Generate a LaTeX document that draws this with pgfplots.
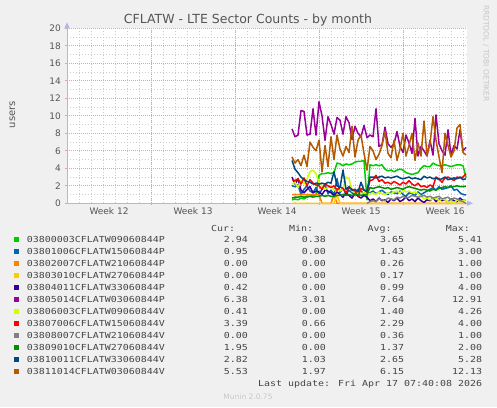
\documentclass[border=0pt]{standalone}
\usepackage{fontspec}
\setmainfont{DejaVu Sans}
\newfontfamily\monofont[FakeStretch=1.2]{DejaVu Sans Mono}
\usepackage{pgfplots}
\usepackage{pgfplotstable}
\pgfplotsset{compat=1.18}
\usetikzlibrary{arrows.meta}
\definecolor{c0}{HTML}{00CC00}
\definecolor{c1}{HTML}{0066B3}
\definecolor{c2}{HTML}{FF8000}
\definecolor{c3}{HTML}{FFCC00}
\definecolor{c4}{HTML}{330099}
\definecolor{c5}{HTML}{990099}
\definecolor{c6}{HTML}{CCFF00}
\definecolor{c7}{HTML}{FF0000}
\definecolor{c8}{HTML}{808080}
\definecolor{c9}{HTML}{008F00}
\definecolor{c10}{HTML}{00487D}
\definecolor{c11}{HTML}{B35A00}
\definecolor{bg}{HTML}{F0F0F0}
\definecolor{tickc}{HTML}{555555}
\definecolor{txt}{HTML}{444444}
\definecolor{mgrid}{HTML}{E8A0A0}
\definecolor{ngrid}{HTML}{CCCCCC}
\definecolor{axc}{HTML}{B4B4E6}
\definecolor{faint}{HTML}{C8C8C8}

\pgfplotstableread[header=false]{
d 18.75 19 19.25 19.5 19.75 20 20.25 20.5 20.75 21 21.25 21.5 21.75 22 22.25 22.5 22.75 23 23.25 23.5 23.75 24 24.25 24.5 24.75 25 25.25 25.5 25.75 26 26.25 26.5 26.75 27 27.25 27.5 27.75 28 28.25 28.5 28.75 29 29.25 29.5 29.75 30 30.25 30.5 30.75 31 31.25 31.5 31.75 32 32.25 32.5 32.75 33 33.25
s0 0.4 0.5 0.4 0.6 0.5 0.7 0.8 0.9 1.0 3.2 3.4 3.4 3.5 3.4 3.5 4.6 4.5 4.3 4.5 4.4 4.5 4.7 4.8 4.8 4.9 0.4 4.4 4.3 4.4 4.3 4.4 3.9 3.7 3.8 3.6 3.8 3.9 3.8 3.5 3.4 3.3 3.4 3.5 4.0 4.3 4.2 4.2 4.6 4.4 4.3 4.3 4.4 4.3 4.2 4.3 4.4 4.4 4.3 2.94
s1 2.0 1.9 2.1 1.0 1.6 2.0 1.4 1.2 1.8 1.0 1.6 2.2 1.1 1.5 1.0 2.8 1.2 1.8 1.0 1.5 1.2 1.0 1.6 1.4 1.1 1.0 1.2 1.4 1.1 1.3 1.5 1.2 1.0 1.3 1.2 1.1 1.4 1.0 0.8 1.2 1.1 0.9 1.3 1.0 1.2 1.4 1.6 1.8 1.5 1.9 1.6 1.7 1.8 2.0 1.5 1.6 1.2 1.0 0.95
s2 1 1 1 1 1 1 1 1 1 1 0 0 0 0 1 0 0 0 0 0 0 0 0 0 0 0 0 0 0 0 0 0 0 0 0 0 0 0 0 0 0 0 0 0 0 0 0 0 0 0 0 0 0 0 0 0 0 0 0
s3 0 0 0 0 0 0 0 0 0 0 0 0 0 0 0 1 0 0 0 0 0 0 0 0 0 0 0 0 0 0 0 0 0 0 0 0 0 0 0 0 0 0 0 0 0 0 0 0 0 0 0 0 0 0 0 0 0 0 0
s4 3.0 2.2 2.8 1.5 1.2 1.6 1.9 1.2 1.4 1.3 1.0 1.5 1.4 1.2 0.9 1.3 1.0 0.7 1.2 0.9 0.6 1.1 0.8 0.6 0.9 0.7 0.3 0.5 0.2 0.6 0.3 0.4 0.1 0.5 0.3 0.6 0.2 0.4 0.7 0.3 0.5 0.2 0.6 0.3 0.1 0.4 0.3 0.6 0.2 0.5 0.3 0.4 0.1 0.5 0.3 0.2 0.6 0.3 0.42
s5 8.5 7.6 7.8 10.6 10.5 7.8 7.9 10.8 7.8 11.6 10.0 7.2 9.9 9.0 7.9 9.8 9.5 7.9 9.9 9.2 7.3 8.8 8.0 7.6 8.9 7.5 7.8 7.6 10.8 6.5 6.7 8.7 6.8 6.4 6.8 8.2 6.5 5.8 7.8 6.9 5.7 9.7 5.4 6.5 6.0 5.4 7.2 5.5 10.1 6.8 6.0 5.5 8.4 5.5 6.6 6.2 8.4 6.0 6.38
s6 2.2 2.4 1.8 2.6 2.2 2.8 3.6 3.8 3.4 2.4 2.0 1.6 1.8 2.0 1.5 1.7 1.4 1.6 3.0 2.8 1.4 1.2 1.3 1.1 1.2 1.0 1.1 1.2 1.0 1.3 1.1 1.0 1.2 1.1 1.3 1.4 1.2 1.5 1.3 1.4 1.2 1.3 1.1 0.8 0.5 0.6 0.4 0.5 0.6 0.3 0.5 0.4 0.1 0.3 0.0 0.4 0.2 0.3 0.41
s7 2.7 2.6 2.8 2.2 2.9 2.0 2.7 2.3 2.1 2.0 1.6 2.2 2.0 1.8 2.0 1.5 1.9 1.7 1.2 1.8 1.6 1.4 0.8 1.7 1.5 1.3 2.6 2.7 3.2 2.5 2.7 2.3 2.4 2.2 2.5 2.3 2.1 2.4 2.2 2.6 2.2 2.0 2.3 1.9 2.0 1.8 2.1 1.9 3.0 2.8 2.4 2.9 3.0 2.8 2.6 3.0 2.9 3.0 3.39
s8 nan nan nan nan nan nan nan nan nan nan nan nan nan nan nan nan nan nan nan nan nan nan nan nan nan 0.0 0.2 0.3 0.2 0.5 0.4 0.3 0.6 0.5 0.4 0.7 0.6 0.8 0.6 0.7 0.9 0.8 0.7 0.8 0.9 0.7 0.8 0.6 0.7 0.8 0.5 0.6 0.7 0.4 0.6 0.5 0.3 0.2 0.0
s9 0.6 0.7 0.7 0.8 0.7 0.8 0.8 0.7 0.8 0.8 0.9 0.8 0.9 0.8 0.8 0.9 0.9 1.0 0.9 1.0 0.9 1.0 1.0 0.9 1.0 1.0 1.8 1.7 1.8 1.9 1.8 1.7 1.8 1.6 1.7 1.8 1.7 1.6 1.8 1.9 1.8 1.7 1.6 1.5 1.6 1.5 1.4 1.6 1.5 1.7 1.8 1.9 1.8 1.9 1.9 2.0 1.9 1.9 1.95
s10 4.9 3.9 3.5 3.0 2.7 2.5 2.4 2.2 2.3 2.2 2.3 2.2 2.4 2.3 3.6 2.0 1.8 3.8 1.6 1.9 1.5 1.6 1.3 2.4 1.5 1.4 3.0 3.0 2.9 3.0 3.1 2.9 3.0 2.9 3.0 3.1 2.9 2.8 2.9 3.0 2.8 2.9 2.8 2.7 3.1 2.9 3.0 2.8 2.9 2.7 2.8 3.0 2.7 2.8 2.9 2.8 3.0 2.7 2.82
s11 5.3 4.6 5.0 4.3 5.5 4.2 7.0 6.4 6.0 7.2 3.6 6.6 4.2 7.6 5.0 7.8 6.2 5.4 6.5 5.8 8.8 5.3 7.2 7.8 5.7 3.8 6.5 6.0 5.0 5.6 6.6 8.2 5.7 5.2 7.2 4.9 6.2 8.0 5.4 6.6 8.0 4.9 6.9 5.4 9.4 5.5 6.8 9.9 7.2 5.3 3.5 8.0 6.6 5.3 6.0 8.6 9.0 5.8 5.53
}\raw
\pgfplotstabletranspose[colnames from=0]{\data}{\raw}

\begin{document}
\begin{tikzpicture}
\path[use as bounding box, fill=bg] (0pt,0pt) rectangle (497pt,407pt);
\begin{axis}[
  at={(67pt,203.7pt)}, anchor=south west,
  scale only axis, width=400pt, height=175pt,
  xmin=0, xmax=33.333, ymin=0, ymax=20,
  axis background/.style={fill=white},
  axis x line=bottom, axis y line=left,
  axis line style={draw=axc, line width=0.8pt},
  x axis line style={-{Triangle[length=6pt,width=5pt]}, shorten >=-6pt},
  y axis line style={-{Triangle[length=6pt,width=5pt]}, shorten >=-6pt},
  xtick={7,14,21,28}, xticklabels={,,,},
  extra x ticks={3.5,10.5,17.5,24.5,31.5},
  extra x tick labels={Week 12,Week 13,Week 14,Week 15,Week 16},
  extra x tick style={grid=none, major tick length=0pt},
  ytick={0,2,...,20},
  minor xtick={1,2,...,33}, minor ytick={1,3,...,19},
  grid=both,
  major grid style={draw=mgrid, dash pattern=on 1pt off 1pt, line width=0.7pt},
  minor grid style={draw=ngrid, dash pattern=on 1pt off 2pt, line width=0.6pt},
  tick align=outside, major tick length=2pt, minor tick length=0pt,
  tick style={draw=mgrid, line width=0.7pt},
  tick label style={font=\fontsize{9}{10}\selectfont, text=tickc},
  /pgf/number format/assume math mode=true,
  yticklabel style={inner sep=0pt, anchor=east, xshift=-4pt},
  xticklabel style={inner sep=0pt, anchor=north, yshift=-4pt},
  clip=false,
  unbounded coords=jump,
  every axis plot/.append style={line width=1.5pt, line join=round, no marks},
]
\addplot[c0] table[x=d, y=s0] {\data};
\addplot[c1] table[x=d, y=s1] {\data};
\addplot[c2] table[x=d, y=s2] {\data};
\addplot[c3] table[x=d, y=s3] {\data};
\addplot[c4] table[x=d, y=s4] {\data};
\addplot[c5] table[x=d, y=s5] {\data};
\addplot[c6] table[x=d, y=s6] {\data};
\addplot[c7] table[x=d, y=s7] {\data};
\addplot[c8] table[x=d, y=s8] {\data};
\addplot[c9] table[x=d, y=s9] {\data};
\addplot[c10] table[x=d, y=s10] {\data};
\addplot[c11] table[x=d, y=s11] {\data};
\end{axis}
% title and labels
\node[anchor=base, inner sep=0, text=tickc, font=\fontsize{12.5}{14}\selectfont] at (248pt,383pt) {CFLATW - LTE Sector Counts - by month};
\node[anchor=base, inner sep=0, rotate=90, text=tickc, font=\fontsize{10}{11}\selectfont] at (15pt,292.5pt) {users};
\node[anchor=base, inner sep=0, rotate=-90, text=faint, font=\fontsize{7.5}{9}\selectfont] at (483.5pt,353.5pt) {RRDTOOL / TOBI OETIKER};
% legend
\begin{scope}[every node/.style={inner sep=0, text=txt, font=\monofont\fontsize{8.3}{10}\selectfont}]
\node[anchor=base east] at (235.3pt,175.7pt) {Cur:};
\node[anchor=base east] at (313.3pt,175.7pt) {Min:};
\node[anchor=base east] at (391.7pt,175.7pt) {Avg:};
\node[anchor=base east] at (470pt,175.7pt) {Max:};
\foreach \i/\nm/\cu/\mi/\av/\ma in {
0/03800003CFLATW09060844P/2.94/0.38/3.65/5.41,
1/03801006CFLATW15060844P/0.95/0.00/1.43/3.00,
2/03802007CFLATW21060844P/0.00/0.00/0.26/1.00,
3/03803010CFLATW27060844P/0.00/0.00/0.17/1.00,
4/03804011CFLATW33060844P/0.42/0.00/0.99/4.00,
5/03805014CFLATW03060844P/6.38/3.01/7.64/12.91,
6/03806003CFLATW09060844V/0.41/0.00/1.40/4.26,
7/03807006CFLATW15060844V/3.39/0.66/2.29/4.00,
8/03808007CFLATW21060844V/0.00/0.00/0.36/1.00,
9/03809010CFLATW27060844V/1.95/0.00/1.37/2.00,
10/03810011CFLATW33060844V/2.82/1.03/2.65/5.28,
11/03811014CFLATW03060844V/5.53/1.97/6.15/12.13}{
  \pgfmathsetmacro\yy{164.7-12*\i}
  \fill[c\i] (14pt,\yy pt) rectangle (19.3pt,\yy pt+5.3pt);
  \node[anchor=base west] at (26.7pt,\yy pt) {\nm};
  \node[anchor=base east] at (248pt,\yy pt) {\cu};
  \node[anchor=base east] at (326pt,\yy pt) {\mi};
  \node[anchor=base east] at (404.3pt,\yy pt) {\av};
  \node[anchor=base east] at (482.3pt,\yy pt) {\ma};
}
\node[anchor=base east] at (482.3pt,20.3pt) {Last update: Fri Apr 17 07:40:08 2026};
\end{scope}
\node[anchor=base, inner sep=0, text=faint, font=\fontsize{7.5}{9}\selectfont] at (248pt,8pt) {Munin 2.0.75};
\end{tikzpicture}
\end{document}
